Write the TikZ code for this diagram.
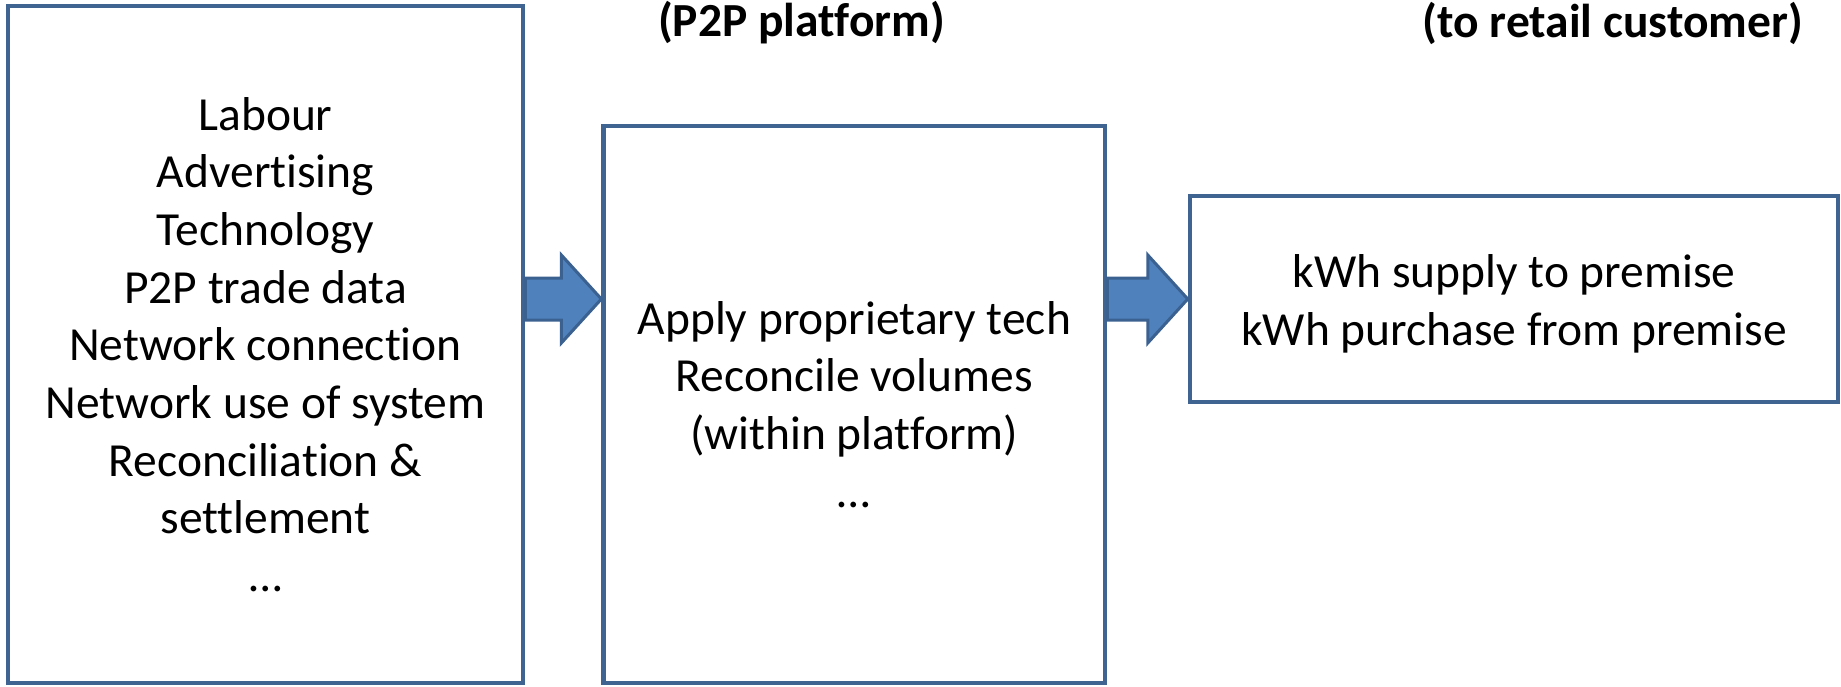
\documentclass[tikz,border=0pt]{standalone}
\usepackage{fontspec}
\setmainfont{Carlito}[Ligatures={NoCommon}]
\usetikzlibrary{calc}
\definecolor{boxline}{HTML}{3F6491}
\definecolor{arrowfill}{HTML}{4F81BD}
\definecolor{arrowline}{HTML}{3A6190}
\tikzset{
  bodytext/.style={inner sep=0pt, align=center,
    font=\fontsize{47.5}{57.7}\selectfont},
  box/.style={bodytext, draw=boxline, line width=4.5pt, fill=white, rectangle},
  heading/.style={inner sep=0pt, font=\fontsize{47.5}{57.7}\selectfont\bfseries},
  blockarrow/.style={fill=arrowfill, draw=arrowline, line width=3pt, line join=miter}
}
\begin{document}
\begin{tikzpicture}[x=1pt, y=-1pt]
\useasboundingbox (0,0) rectangle (1841,686);

% three stages
\node[box, minimum width=515pt, minimum height=677pt] (L) at (265.5,344.5)
  {Labour\\Advertising\\Technology\\P2P trade data\\Network connection\\Network use of system\\Reconciliation \&\\settlement\\…};
\node[box, minimum width=501.4pt, minimum height=557pt] (M) at (854.3,404.5)
  {Apply proprietary tech\\Reconcile volumes\\(within platform)\\…};
\node[box, minimum width=648pt, minimum height=206pt] (R) at (1514,299) {};
\node[bodytext] (Rt) at ($(R.center)+(0,4.5)$)
  {kWh supply to premise\\kWh purchase from premise};

% headings
\node[heading] (hM) at (801.5,23) {(P2P platform)};
\node[heading, anchor=east] (hR) at (1803,23) {(to retail customer)};

% block arrows between the stages
\coordinate (s1) at (L.east |- R.center);
\coordinate (t1) at (M.west |- R.center);
\coordinate (s2) at (M.east |- R.center);
\coordinate (t2) at (R.west);
\foreach \s/\t in {s1/t1, s2/t2} {
  \draw[blockarrow] ($(\s)+(0,-21)$) -- ($(\t)+(-40,-21)$) -- ($(\t)+(-40,-44)$)
    -- (\t) -- ($(\t)+(-40,44)$) -- ($(\t)+(-40,21)$) -- ($(\s)+(0,21)$) -- cycle;
}
\end{tikzpicture}
\end{document}
